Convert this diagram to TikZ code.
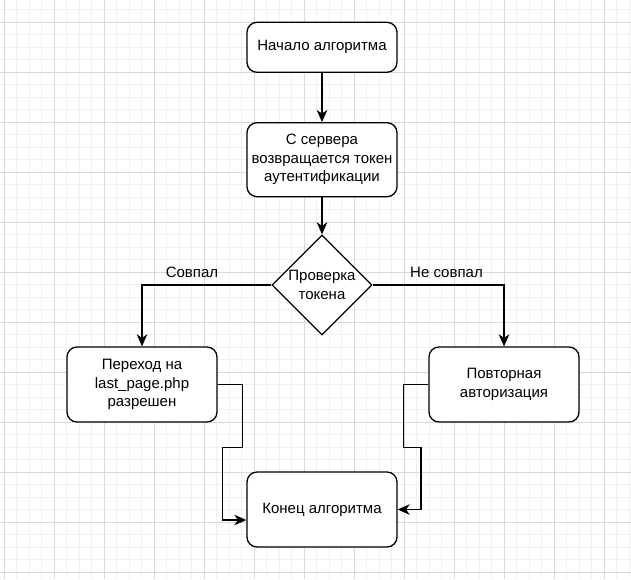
\documentclass[tikz,border=0pt]{standalone}
\usepackage{fontspec}
\setmainfont{Liberation Sans}
\usetikzlibrary{arrows.meta,shapes.geometric}
\definecolor{gridminor}{HTML}{F0F0F0}
\definecolor{gridmajor}{HTML}{D9D9D9}
\tikzset{
  box/.style={draw=black, fill=white, line width=1.3pt, rounded corners=10pt,
    minimum width=150pt, align=center, inner sep=2pt,
    font=\fontsize{15}{18.5}\selectfont},
  dia/.style={draw=black, fill=white, line width=1.3pt, diamond,
    minimum width=100pt, minimum height=100pt, inner sep=0pt},
  txt/.style={align=center, inner sep=0pt, font=\fontsize{15}{18.5}\selectfont},
  lbl/.style={inner sep=0pt, font=\fontsize{15}{18}\selectfont},
  arr/.style={draw=black, line width=1.3pt,
    -{Stealth[length=12pt,width=10.5pt,inset=3.5pt]}},
  minorline/.style={draw=gridminor, line width=1pt},
  majorline/.style={draw=gridmajor, line width=1pt}
}
\begin{document}
\begin{tikzpicture}[x=1pt,y=-1pt]
\useasboundingbox (0,0) rectangle (631,579);
\fill[white] (0,0) rectangle (631,579);
% grid
\foreach \i in {-1,...,51} {
  \draw[minorline] ({4+12.5*\i},0) -- ({4+12.5*\i},579);
}
\foreach \i in {-2,...,46} {
  \draw[minorline] (0,{22+12.5*\i}) -- (631,{22+12.5*\i});
}
\foreach \i in {0,...,12} {
  \draw[majorline] ({4+50*\i},0) -- ({4+50*\i},579);
}
\foreach \i in {0,...,11} {
  \draw[majorline] (0,{22+50*\i}) -- (631,{22+50*\i});
}
% nodes
\node[box, minimum height=50pt] (start) at (322,47.3) {Начало алгоритма};
\node[box, minimum height=74pt] (server) at (322,159.7) {С сервера\\возвращается токен\\аутентификации};
\node[dia] (check) at (322,285) {};
\node[txt] (checktxt) at (322,285) {Проверка\\токена};
\node[box, minimum height=75pt] (left) at (142,384.5) {Переход на\\last\_page.php\\разрешен};
\node[box, minimum height=75pt] (right) at (504,384.5) {Повторная\\авторизация};
\node[box, minimum height=75pt] (end) at (322,509.5) {Конец алгоритма};
% connectors
\draw[arr] (start) -- (server);
\draw[arr] (server) -- (check);
\draw[arr] (check.west) -| (left.north);
\draw[arr] (check.east) -| (right.north);
\node[lbl] (yes) at (192,272) {Совпал};
\node[lbl] (no) at (446.5,272) {Не совпал};
\draw[arr] (left.east) -- ++(25,0) -- ++(0,63) -- ++(-20,0) |- ([yshift=-10.5pt]end.west);
\draw[arr] (right.west) -- ++(-25,0) -- ++(0,63) -- ++(17.5,0) |- (end.east);
\end{tikzpicture}
\end{document}
